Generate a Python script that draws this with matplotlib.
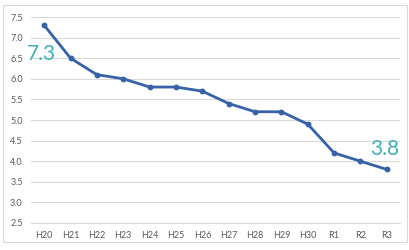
import matplotlib
matplotlib.use('Agg')
import matplotlib.pyplot as plt
from matplotlib.patches import Rectangle

# data
years = ['H20', 'H21', 'H22', 'H23', 'H24', 'H25', 'H26', 'H27', 'H28', 'H29', 'H30', 'R1', 'R2', 'R3']
values = [7.3, 6.5, 6.1, 6.0, 5.8, 5.8, 5.7, 5.4, 5.2, 5.2, 4.9, 4.2, 4.0, 3.8]
yticks = [2.5, 3.0, 3.5, 4.0, 4.5, 5.0, 5.5, 6.0, 6.5, 7.0, 7.5]

plt.rcParams['font.family'] = ['Lato', 'DejaVu Sans']

fig = plt.figure(figsize=(4.1, 2.5), dpi=100)
fig.patches.append(Rectangle((3 / 410, 8 / 250), 404 / 410, 237 / 250,
                             transform=fig.transFigure, fill=False,
                             edgecolor='#d9d9d9', linewidth=0.8))

ax = fig.add_axes([31 / 410, 27 / 250, 369 / 410, 206 / 250])
x = list(range(len(years)))
ax.plot(x, values, color='#3562a8', linewidth=2, marker='o', markersize=3.2, zorder=3)

ax.set_xlim(-0.5, len(years) - 0.5)
ax.set_ylim(2.5, 7.5)
ax.set_yticks(yticks)
ax.set_yticklabels(['%.1f' % v for v in yticks])
ax.set_xticks(x)
ax.set_xticklabels(years)
ax.grid(axis='y', color='#d9d9d9', linewidth=0.8)
ax.set_axisbelow(True)
for s in ['top', 'right', 'left']:
    ax.spines[s].set_visible(False)
ax.spines['bottom'].set_color('#d9d9d9')
ax.spines['bottom'].set_linewidth(0.8)
ax.tick_params(length=0, labelsize=6.5, colors='#595959', pad=6)

ax.annotate('%.1f' % values[0], xy=(x[0], values[0]), xytext=(-2, -21),
            textcoords='offset points', ha='center', va='center',
            fontsize=15, color='#3fb0b8')
ax.annotate('%.1f' % values[-1], xy=(x[-1], values[-1]), xytext=(-1.5, 15),
            textcoords='offset points', ha='center', va='center',
            fontsize=15, color='#3fb0b8')

fig.savefig('out.png', dpi=100)
